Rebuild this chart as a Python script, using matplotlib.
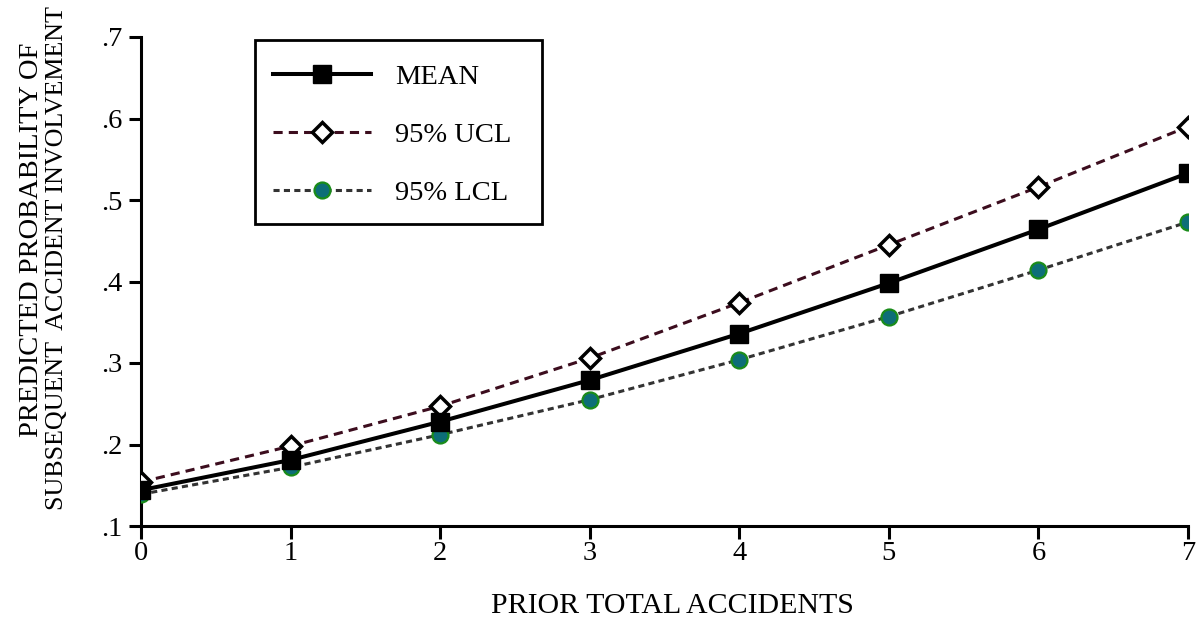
import matplotlib
matplotlib.use("Agg")
import matplotlib.pyplot as plt
from matplotlib.ticker import FixedLocator
from matplotlib.patches import Rectangle

prior_accidents = [0, 1, 2, 3, 4, 5, 6, 7]
mean_vals = [0.144, 0.181, 0.228, 0.279, 0.336, 0.398, 0.464, 0.533]
ucl_vals = [0.154, 0.198, 0.247, 0.306, 0.374, 0.445, 0.516, 0.590]
lcl_vals = [0.139, 0.172, 0.212, 0.255, 0.304, 0.357, 0.414, 0.473]
y_ticks = [0.1, 0.2, 0.3, 0.4, 0.5, 0.6, 0.7]
y_tick_labels = [".1", ".2", ".3", ".4", ".5", ".6", ".7"]

plt.rcParams['font.family'] = ['Liberation Serif', 'DejaVu Serif']

W, H = 1196, 621
fig = plt.figure(figsize=(W / 100, H / 100), dpi=100)
x0, x1, ytop, ybot = 141, 1188, 37, 526
ax = fig.add_axes([x0 / W, 1 - ybot / H, (x1 - x0) / W, (ybot - ytop) / H])

ax.plot(prior_accidents, lcl_vals, linestyle=(0, (2.0, 1.4)), color='#333333', lw=2.2,
        marker='o', markersize=11.5, markerfacecolor='#0d6e78', markeredgecolor='#1a8c1a',
        markeredgewidth=1.6, label='95% LCL', zorder=3)
ax.plot(prior_accidents, ucl_vals, linestyle=(0, (3.0, 2.0)), color='#3c0d1e', lw=2.2,
        marker='D', markersize=10.5, markerfacecolor='white', markeredgecolor='black',
        markeredgewidth=2.5, label='95% UCL', zorder=4)
ax.plot(prior_accidents, mean_vals, linestyle='-', color='black', lw=2.9,
        marker='s', markersize=13, markerfacecolor='black', markeredgecolor='black',
        label='MEAN', zorder=5)

ax.set_xlim(0, 7)
ax.set_ylim(0.1, 0.7)
ax.xaxis.set_major_locator(FixedLocator(prior_accidents))
ax.set_yticks(y_ticks)
ax.set_yticklabels(y_tick_labels)
ax.set_xticklabels([str(v) for v in prior_accidents])

for s in ['top', 'right']:
    ax.spines[s].set_visible(False)
for s in ['left', 'bottom']:
    ax.spines[s].set_linewidth(2.2)
ax.tick_params(axis='both', direction='out', length=9, width=2.2, labelsize=20.5)
ax.tick_params(axis='y', pad=4.5)
ax.tick_params(axis='x', pad=1.5)

fig.text(672 / W, 1 - 613 / H, 'PRIOR TOTAL ACCIDENTS', fontsize=21.5,
         ha='center', va='baseline')
fig.text(38 / W, 1 - 240 / H, 'PREDICTED PROBABILITY OF', fontsize=20.5,
         rotation=90, rotation_mode='anchor', ha='center', va='baseline')
fig.text(63 / W, 1 - 258.5 / H, 'SUBSEQUENT  ACCIDENT INVOLVEMENT', fontsize=18.7,
         rotation=90, rotation_mode='anchor', ha='center', va='baseline')

# legend frame
lx0, lx1, ly0, ly1 = 255, 542, 40, 224
ax.add_patch(Rectangle(((lx0 - x0) / (x1 - x0), (ybot - ly1) / (ybot - ytop)),
                       (lx1 - lx0) / (x1 - x0), (ly1 - ly0) / (ybot - ytop),
                       transform=ax.transAxes, fill=True, facecolor='white',
                       edgecolor='black', lw=2.0, zorder=6, clip_on=False))

handles, labels = ax.get_legend_handles_labels()
order = [2, 1, 0]
leg = ax.legend([handles[i] for i in order], [labels[i] for i in order],
                loc='upper left',
                bbox_to_anchor=((lx0 - x0) / (x1 - x0), (ybot - ly0 - 6) / (ybot - ytop)),
                fontsize=20.5, frameon=False,
                borderpad=0.62, labelspacing=1.13, handlelength=3.47, handletextpad=0.84,
                borderaxespad=0)
leg.set_zorder(7)

fig.savefig('out.png', dpi=100)
